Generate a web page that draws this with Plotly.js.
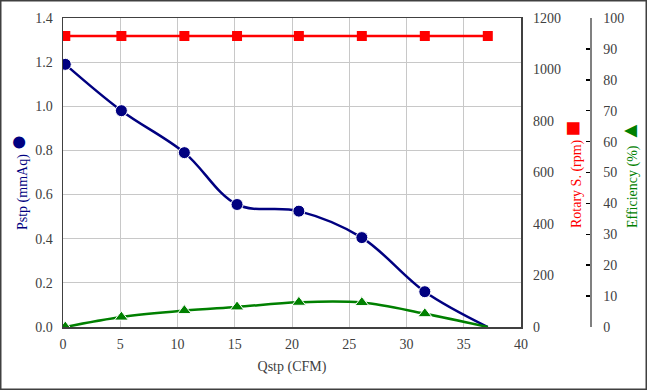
<!DOCTYPE html>
<html><head><meta charset="utf-8">
<script src="https://cdn.plot.ly/plotly-3.0.1.min.js"></script>
<style>html,body{margin:0;padding:0;background:#fff}#c{width:647px;height:390px}</style>
</head><body><div id="c"></div>
<script>
// Data
const qstp = [0.2, 5.1, 10.6, 15.2, 20.6, 26.1, 31.6, 37.1];
const pstp = [1.19, 0.98, 0.79, 0.555, 0.525, 0.405, 0.16, 0.0];
const rotary = [1130, 1130, 1130, 1130, 1130, 1130, 1130, 1130];
const efficiency = [0, 3.2, 5.3, 6.5, 8.0, 7.9, 4.3, 0];
const xTicks = [0, 5, 10, 15, 20, 25, 30, 35, 40];

const L = 63, R = 47, T = 18, B = 63, W = 647, H = 390;
const pw = W - L - R, ph = H - T - B;
const px = v => (v - L) / pw;
const py = v => (H - B - v) / ph;
const plotRight = 521;

const font = '"Liberation Serif", "Times New Roman", serif';
const tickFont = {family: font, size: 14, color: '#404040'};
const lastHidden = (n, s) => qstp.map((_, i) => i === n - 1 ? 0 : s);

const traces = [
  {x: qstp, y: rotary, yaxis: 'y2', mode: 'lines+markers', type: 'scatter',
   line: {color: '#FF0000', width: 2.5}, marker: {symbol: 'square', size: 10, color: '#FF0000', opacity: 1}},
  {x: qstp, y: efficiency, yaxis: 'y3', mode: 'lines+markers', type: 'scatter',
   line: {color: '#008000', width: 2.5, shape: 'spline', smoothing: 1},
   marker: {symbol: 'triangle-up', size: lastHidden(qstp.length, 12), color: '#008000', opacity: 1}},
  {x: qstp, y: pstp, yaxis: 'y', mode: 'lines+markers', type: 'scatter',
   line: {color: '#000080', width: 2.5, shape: 'spline', smoothing: 1},
   marker: {symbol: 'circle', size: lastHidden(qstp.length, 12), color: '#000080', opacity: 1}}
];

const layout = {
  width: W, height: H, showlegend: false,
  font: {family: font, size: 14, color: '#404040'},
  margin: {l: L, r: R, t: T, b: B, pad: 0},
  paper_bgcolor: '#fff', plot_bgcolor: '#fff',
  xaxis: {domain: [0, px(plotRight)], range: [0, 40], tickvals: xTicks, ticktext: xTicks.map(String),
    showgrid: true, gridcolor: '#C8C8C8', gridwidth: 1, zeroline: false,
    showline: true, linecolor: '#404040', linewidth: 1.5, mirror: true, ticks: '',
    tickfont: tickFont, ticklabelstandoff: 4,
    title: {text: 'Qstp (CFM)', font: {family: font, size: 14, color: '#404040'}, standoff: 10}},
  yaxis: {range: [0, 1.4], dtick: 0.2, tickformat: '.1f', showgrid: true, gridcolor: '#C8C8C8',
    zeroline: false, showline: true, linecolor: '#404040', linewidth: 1.5, mirror: true, ticks: '',
    tickfont: tickFont, ticklabelstandoff: 6},
  yaxis2: {overlaying: 'y', side: 'right', anchor: 'x', range: [0, 1200], dtick: 200,
    showgrid: false, zeroline: false, showline: false, ticks: '', tickfont: tickFont, ticklabelstandoff: 11},
  yaxis3: {overlaying: 'y', side: 'right', anchor: 'free', position: px(590), range: [0, 100], dtick: 10,
    showgrid: false, zeroline: false, showline: true, linecolor: '#808080', linewidth: 1.5,
    ticks: 'inside', ticklen: 4, tickcolor: '#000', tickwidth: 1.5, tickfont: tickFont, ticklabelstandoff: 9},
  annotations: [
    {xref: 'paper', yref: 'paper', x: px(17), y: py(182), textangle: -90, showarrow: false,
     xanchor: 'center', yanchor: 'middle',
     text: 'Pstp (mmAq) <span style="font-size:28px">●</span>', font: {family: font, size: 14, color: '#000080'}},
    {xref: 'paper', yref: 'paper', x: px(572), y: py(175), textangle: -90, showarrow: false,
     xanchor: 'center', yanchor: 'middle',
     text: 'Rotary S. (rpm) <span style="font-size:26px">■</span>', font: {family: font, size: 14, color: '#FF0000'}},
    {xref: 'paper', yref: 'paper', x: px(629), y: py(174), textangle: -90, showarrow: false,
     xanchor: 'center', yanchor: 'middle',
     text: 'Efficiency (%) <span style="font-size:22px">▲</span>', font: {family: font, size: 14, color: '#008000'}}
  ],
  shapes: [
    {type: 'rect', xref: 'paper', yref: 'paper', x0: px(0.75), x1: px(646.25), y0: py(389.25), y1: py(0.75),
     line: {color: '#404040', width: 1.5}, layer: 'above'}
  ]
};

Plotly.newPlot('c', traces, layout, {staticPlot: true});
</script></body></html>
